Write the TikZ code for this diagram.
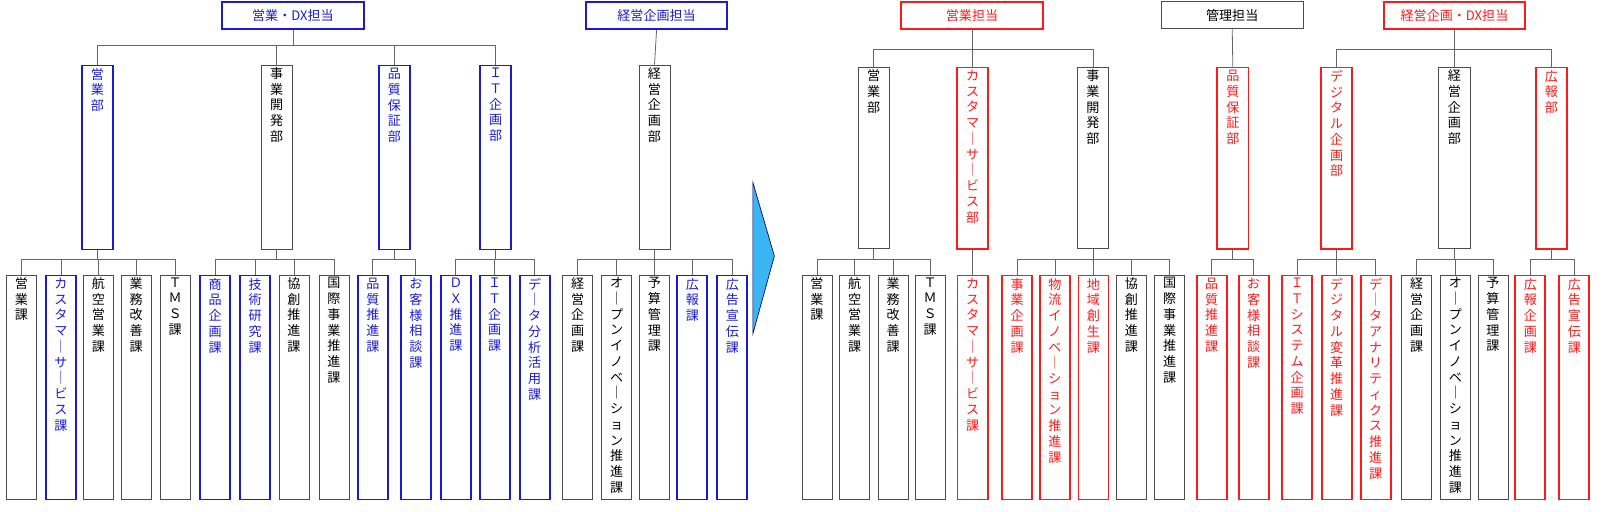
\documentclass[tikz,border=0pt]{standalone}
\usepackage{fontspec}
\newfontfamily\jp{Noto Sans CJK JP}
\definecolor{orgblue}{HTML}{1A1AD8}
\definecolor{orgred}{HTML}{FF1A1A}
\definecolor{arrowblue}{HTML}{3AB4F2}

\ExplSyntaxOn
\NewDocumentCommand\tatetext{m}{\tl_map_inline:nn{#1}{\leavevmode##1\par}}
\ExplSyntaxOff
\newcommand\tate[2]{\parbox[t][#1][t]{1.2em}{\centering\fontsize{9.8}{11.8}\selectfont\vspace*{2pt}\tatetext{#2}}}
\newcommand\branch[5]{%
  \draw[conn] (#1.south) -- (#1.south |- 0,#2);
  \draw[conn] (#3.north |- 0,#2) -- (#4.north |- 0,#2);
  \foreach \c in {#5} \draw[conn] (\c.north) -- (\c.north |- 0,#2);
}

\tikzset{
  conn/.style={draw=black!60, line width=0.6pt},
  plainbox/.style={draw=black!70, line width=0.5pt, inner sep=0, anchor=north, text=black},
  bluebox/.style={draw=orgblue, line width=1.4pt, inner sep=0, anchor=north, text=orgblue},
  redbox/.style={draw=orgred, line width=1.4pt, inner sep=0, anchor=north, text=orgred},
  head/.style={minimum width=106pt, minimum height=20.5pt, font=\jp\fontsize{9.8}{11}\selectfont},
  dept/.style={minimum width=23.5pt},
  sect/.style={minimum width=22.5pt}
}

\begin{document}
\begin{tikzpicture}[x=0.768pt, y=-0.768pt, font=\jp]
  \useasboundingbox (0,0) rectangle (1565,499);

  % before
  \node[bluebox, head] (hA) at (286,1) {営業・DX担当};
  \node[bluebox, head] (hB) at (641,1) {経営企画担当};

  \node[bluebox, dept] (dA1) at (95,63) {\tate{138pt}{営業部}};
  \node[plainbox, dept] (dA2) at (270,63) {\tate{138pt}{事業開発部}};
  \node[bluebox, dept] (dA3) at (385,63) {\tate{138pt}{品質保証部}};
  \node[bluebox, dept] (dA4) at (484,63) {\tate{138pt}{ＩＴ企画部}};
  \node[plainbox, dept] (dB1) at (639,63) {\tate{138pt}{経営企画部}};

  \node[plainbox, sect] (s1) at (21,268) {\tate{168pt}{営業課}};
  \node[bluebox, sect] (s2) at (59.5,268) {\tate{168pt}{カスタマ｜サ｜ビス課}};
  \node[plainbox, sect] (s3) at (96,268) {\tate{168pt}{航空営業課}};
  \node[plainbox, sect] (s4) at (133,268) {\tate{168pt}{業務改善課}};
  \node[plainbox, sect] (s5) at (171,268) {\tate{168pt}{ＴＭＳ課}};
  \node[bluebox, sect] (s6) at (210,268) {\tate{168pt}{商品企画課}};
  \node[bluebox, sect] (s7) at (249,268) {\tate{168pt}{技術研究課}};
  \node[plainbox, sect] (s8) at (287,268) {\tate{168pt}{協創推進課}};
  \node[plainbox, sect] (s9) at (326,268) {\tate{168pt}{国際事業推進課}};
  \node[bluebox, sect] (s10) at (364,268) {\tate{168pt}{品質推進課}};
  \node[bluebox, sect] (s11) at (406,268) {\tate{168pt}{お客様相談課}};
  \node[bluebox, sect] (s12) at (445,268) {\tate{168pt}{ＤＸ推進課}};
  \node[bluebox, sect] (s13) at (483,268) {\tate{168pt}{ＩＴ企画課}};
  \node[bluebox, sect] (s14) at (522,268) {\tate{168pt}{デ｜タ分析活用課}};
  \node[plainbox, sect] (s15) at (564,268) {\tate{168pt}{経営企画課}};
  \node[plainbox, sect] (s16) at (602,268) {\tate{168pt}{オ｜プンイノベ｜ション推進課}};
  \node[plainbox, sect] (s17) at (639,268) {\tate{168pt}{予算管理課}};
  \node[bluebox, sect] (s18) at (676,268) {\tate{168pt}{広報課}};
  \node[bluebox, sect] (s19) at (715,268) {\tate{168pt}{広告宣伝課}};

  \branch{hA}{44}{dA1}{dA4}{dA1,dA2,dA3,dA4}
  \draw[conn] (hB.south) -- (dB1.north);
  \branch{dA1}{253}{s1}{s5}{s1,s2,s3,s4,s5}
  \branch{dA2}{253}{s6}{s9}{s6,s7,s8,s9}
  \branch{dA3}{253}{s10}{s11}{s10,s11}
  \branch{dA4}{253}{s12}{s14}{s12,s13,s14}
  \branch{dB1}{253}{s15}{s19}{s15,s16,s17,s18,s19}

  % arrow
  \draw[fill=arrowblue, draw=blue!40!black, line width=0.5pt] (735,178) -- (735,326) -- (756,250) -- cycle;

  % after
  \node[redbox, head] (hC) at (949,1) {営業担当};
  \node[plainbox, head] (hD) at (1203,1) {管理担当};
  \node[redbox, head] (hE) at (1420,1) {経営企画・DX担当};

  \node[plainbox, dept] (eA1) at (853,65) {\tate{136pt}{営業部}};
  \node[redbox, dept] (eA2) at (949.5,65) {\tate{136pt}{カスタマ｜サ｜ビス部}};
  \node[plainbox, dept] (eA3) at (1067,65) {\tate{136pt}{事業開発部}};
  \node[redbox, dept] (eD1) at (1203.6,65) {\tate{136pt}{品質保証部}};
  \node[redbox, dept] (eE1) at (1305,65) {\tate{136pt}{デジタル企画部}};
  \node[plainbox, dept] (eE2) at (1420,65) {\tate{136pt}{経営企画部}};
  \node[redbox, dept] (eE3) at (1514.6,65) {\tate{136pt}{広報部}};

  \node[plainbox, sect] (t1) at (797.6,268) {\tate{168pt}{営業課}};
  \node[plainbox, sect] (t2) at (834.5,268) {\tate{168pt}{航空営業課}};
  \node[plainbox, sect] (t3) at (872,268) {\tate{168pt}{業務改善課}};
  \node[plainbox, sect] (t4) at (908,268) {\tate{168pt}{ＴＭＳ課}};
  \node[redbox, sect] (t5) at (949.5,268) {\tate{168pt}{カスタマ｜サ｜ビス課}};
  \node[redbox, sect] (t6) at (993,268) {\tate{168pt}{事業企画課}};
  \node[redbox, sect] (t7) at (1030,268) {\tate{168pt}{物流イノベ｜ション推進課}};
  \node[redbox, sect] (t8) at (1067.6,268) {\tate{168pt}{地域創生課}};
  \node[plainbox, sect] (t9) at (1104.5,268) {\tate{168pt}{協創推進課}};
  \node[plainbox, sect] (t10) at (1142,268) {\tate{168pt}{国際事業推進課}};
  \node[redbox, sect] (t11) at (1183,268) {\tate{168pt}{品質推進課}};
  \node[redbox, sect] (t12) at (1224,268) {\tate{168pt}{お客様相談課}};
  \node[redbox, sect] (t13) at (1266.5,268) {\tate{168pt}{ＩＴシステム企画課}};
  \node[redbox, sect] (t14) at (1305,268) {\tate{168pt}{デジタル変革推進課}};
  \node[redbox, sect] (t15) at (1343,268) {\tate{168pt}{デ｜タアナリティクス推進課}};
  \node[plainbox, sect] (t16) at (1383,268) {\tate{168pt}{経営企画課}};
  \node[plainbox, sect] (t17) at (1421,268) {\tate{168pt}{オ｜プンイノベ｜ション推進課}};
  \node[plainbox, sect] (t18) at (1457.5,268) {\tate{168pt}{予算管理課}};
  \node[redbox, sect] (t19) at (1494,268) {\tate{168pt}{広報企画課}};
  \node[redbox, sect] (t20) at (1537,268) {\tate{168pt}{広告宣伝課}};

  \branch{hC}{48}{eA1}{eA3}{eA1,eA2,eA3}
  \draw[conn] (hD.south) -- (eD1.north);
  \branch{hE}{48}{eE1}{eE3}{eE1,eE2,eE3}
  \branch{eA1}{253}{t1}{t4}{t1,t2,t3,t4}
  \draw[conn] (eA2.south) -- (t5.north);
  \branch{eA3}{253}{t6}{t10}{t6,t7,t8,t9,t10}
  \branch{eD1}{253}{t11}{t12}{t11,t12}
  \branch{eE1}{253}{t13}{t15}{t13,t14,t15}
  \branch{eE2}{253}{t16}{t18}{t16,t17,t18}
  \branch{eE3}{253}{t19}{t20}{t19,t20}
\end{tikzpicture}
\end{document}
